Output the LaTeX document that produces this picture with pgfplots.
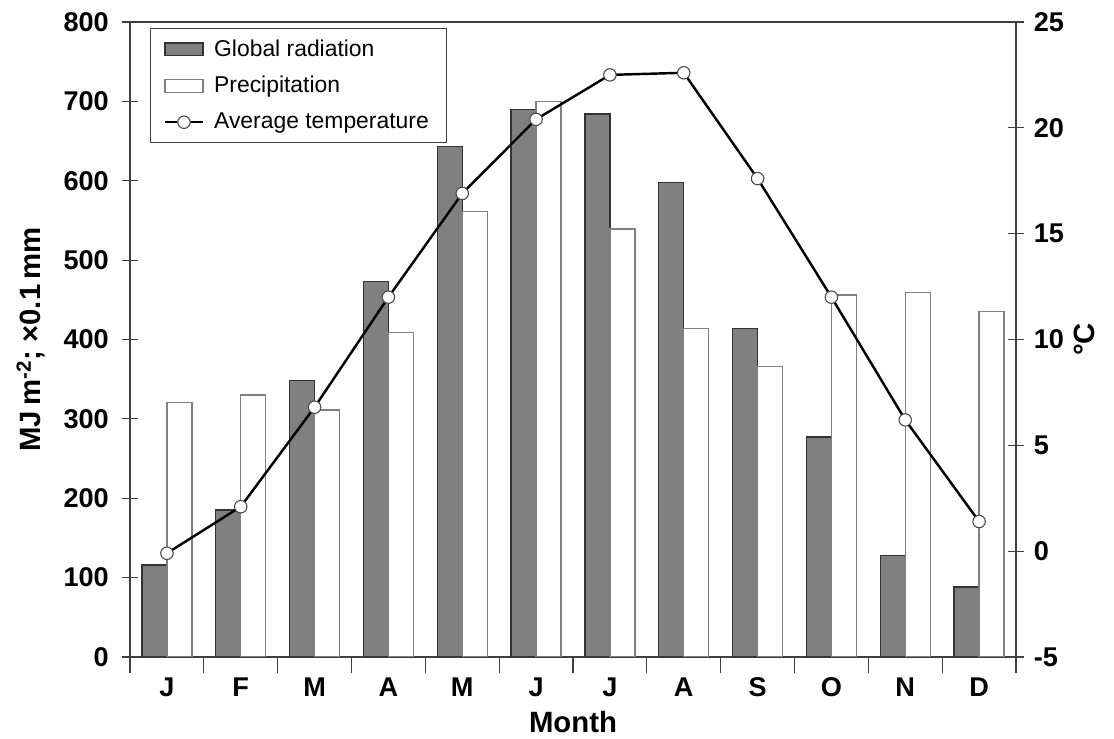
\documentclass[border=0pt]{standalone}
\usepackage{fontspec}
\setmainfont{Liberation Sans}
\usepackage{pgfplots}
\usepackage{pgfplotstable}
\pgfplotsset{compat=1.18}

% month, global radiation, precipitation (x0.1 mm), mean temperature
\pgfplotstableread{
m rad prec temp
1  116 321 -0.1
2  185 330  2.1
3  348 311  6.8
4  473 409 12.0
5  643 561 16.9
6  690 700 20.4
7  684 539 22.5
8  598 414 22.6
9  414 366 17.6
10 277 456 12.0
11 128 459  6.2
12  88 435  1.4
}\climate

\definecolor{radgray}{RGB}{128,128,128}

\begin{document}
\begin{tikzpicture}
\pgfplotsset{
  every axis/.append style={
    scale only axis, width=398.7pt, height=285.75pt,
    xmin=0.5, xmax=12.5,
    tick align=center, major tick length=7pt, minor tick length=7pt,
    tick style={black!75, line width=0.5pt},
    axis line style={black!75, line width=0.5pt},
    tick label style={font=\bfseries\fontsize{12.2}{14}\selectfont},
    /pgf/number format/assume math mode=true,
    label style={font=\bfseries\fontsize{13.2}{16}\selectfont},
  },
}
\begin{axis}[
  name=main,
  ymin=0, ymax=800,
  ytick={0,100,...,800},
  xtick={1,...,12},
  xticklabels={J,F,M,A,M,J,J,A,S,O,N,D},
  major x tick style={draw=none},
  minor xtick={0.5,1.5,...,12.5},
  xtick pos=bottom, ytick pos=left,
  xticklabel style={yshift=1.2pt},
  yticklabel style={xshift=-2.5pt},
  xlabel={Month},
  xlabel style={yshift=0.6pt},
  ylabel={MJ\,m\textsuperscript{-2}; ×0.1\,mm},
  ylabel style={yshift=1.5pt},
  ybar, bar width=0.339,
]
\addplot[fill=radgray, draw=black!80, line width=0.6pt, bar shift=-0.1695] table[x=m, y=rad] {\climate};
\addplot[fill=white, draw=radgray, line width=0.6pt, bar shift=0.1695] table[x=m, y=prec] {\climate};
\end{axis}
\begin{axis}[
  ymin=-5, ymax=25,
  ytick={-5,0,...,25},
  axis x line=none, axis y line*=right,
  yticklabel style={xshift=1pt},
  ylabel={°C},
  ylabel style={yshift=2.5pt},
  legend cell align=left,
  legend style={at={(0.0226,0.9906)}, anchor=north west, draw=black!75,
    font=\fontsize{10.3}{12}\selectfont, row sep=3.5pt, inner xsep=6pt, inner ysep=3pt,
    /tikz/every odd column/.append style={column sep=2.5pt}},
]
\addlegendimage{area legend, fill=radgray, draw=black!80, line width=0.6pt}
\addlegendentry{Global radiation}
\addlegendimage{area legend, fill=white, draw=radgray, line width=0.6pt}
\addlegendentry{Precipitation}
\addplot[black, line width=1.1pt, mark=*, mark size=2.8pt,
  mark options={fill=white, draw=black!70, line width=0.5pt}] table[x=m, y=temp] {\climate};
\addlegendentry{Average temperature}
\end{axis}
\pgfresetboundingbox
\path ([shift={(-58.5pt,-36.5pt)}]main.south west) rectangle ([shift={(44.1pt,9.9pt)}]main.north east);
\end{tikzpicture}
\end{document}
